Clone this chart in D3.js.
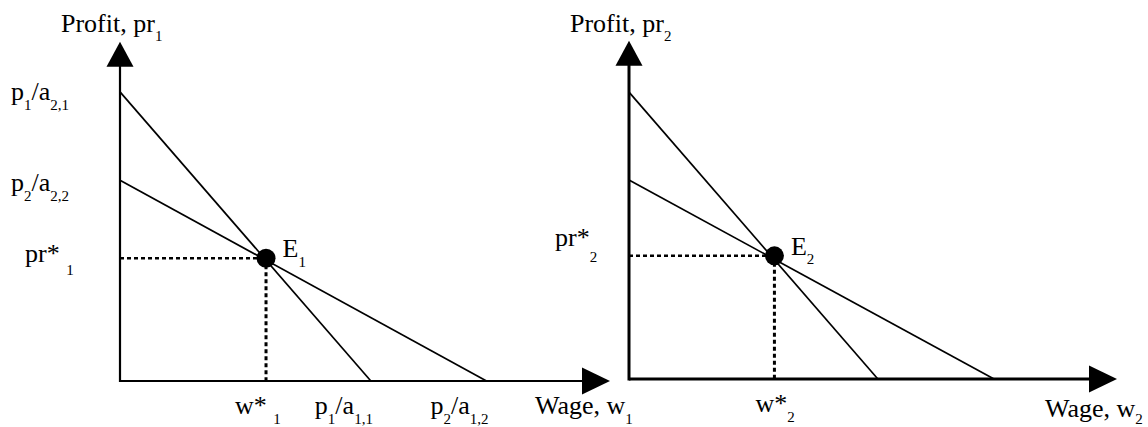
<!DOCTYPE html>
<html>
<head>
<meta charset="utf-8">
<script src="https://cdn.jsdelivr.net/npm/d3@7"></script>
<style>
    body { margin: 0; background: #fff; }
    svg { display: block; }
    text { font-family: "Liberation Serif", "Times New Roman", serif; fill: #000; }
</style>
</head>
<body>
<div id="chart"></div>
<script>
// Values (abstract units, axis runs 0..10 to the arrow tip)
const panelIds = ["1", "2"];
const steepYIntercept = [8.52, 8.48];   // p1/a2,1
const steepXIntercept = [5.12, 5.10];   // p1/a1,1
const shallowYIntercept = [5.92, 5.88]; // p2/a2,2
const shallowXIntercept = [7.48, 7.48]; // p2/a1,2
const equilibriumWage = [2.98, 2.98];
const equilibriumProfit = [3.62, 3.64];

// Labels ( _{..} marks a subscript )
const profitLabels = ["Profit, pr_{1}", "Profit, pr_{2}"];
const wageLabels = ["Wage, w_{1}", "Wage, w_{2}"];
const yInterceptLabels = [["p_{1}/a_{2,1}", "p_{2}/a_{2,2}"], [null, null]];
const xInterceptLabels = [["p_{1}/a_{1,1}", "p_{2}/a_{1,2}"], [null, null]];
const prStarLabels = ["pr* _{1}", "pr*_{2}"];
const wStarLabels = ["w* _{1}", "w*_{2}"];
const eqLabels = ["E_{1}", "E_{2}"];

const svg = d3.select("#chart").append("svg")
    .attr("width", 1148)
    .attr("height", 427);

// write text with subscripts as tspans
function richText(sel, str, subShift) {
    subShift = subShift || 10;
    const parts = str.split(/(_\{[^}]*\})/).filter(s => s.length);
    let down = false;
    parts.forEach(p => {
        const isSub = p.startsWith("_{");
        const t = sel.append("tspan").text(isSub ? p.slice(2, -1) : p);
        if (isSub) {
            t.style("font-size", "15px").attr("dy", down ? 0 : subShift);
            down = true;
        } else if (down) {
            t.attr("dy", -subShift);
            down = false;
        }
    });
    return sel;
}

class WagePanel {

    constructor(i, geom) {
        this.i = i;
        this.geom = geom;
        this.initVis();
    }

    initVis() {
        let vis = this;
        const g = vis.geom;
        const i = vis.i;

        vis.g = svg.append("g").attr("class", "panel-" + panelIds[i]);

        vis.x = d3.scaleLinear().domain([0, 10]).range([g.x0, g.x1]);
        vis.y = d3.scaleLinear().domain([0, 10]).range([g.y0, g.y1]);

        const line = d3.line().x(d => vis.x(d[0])).y(d => vis.y(d[1]));

        // profit lines for the two goods
        const lines = [
            [[0, steepYIntercept[i]], [steepXIntercept[i], 0]],
            [[0, shallowYIntercept[i]], [shallowXIntercept[i], 0]]
        ];
        vis.g.selectAll(".pline")
            .data(lines)
            .join("path")
            .attr("class", "pline")
            .attr("d", line)
            .attr("fill", "none")
            .attr("stroke", "#000")
            .attr("stroke-width", 1.7);

        // dotted guides to the equilibrium
        const ew = equilibriumWage[i], ep = equilibriumProfit[i];
        vis.g.append("path")
            .attr("d", line([[0, ep], [ew, ep]]))
            .attr("stroke", "#000")
            .attr("stroke-width", 2.5)
            .attr("stroke-dasharray", "4,3");
        vis.g.append("path")
            .attr("d", line([[ew, ep], [ew, 0]]))
            .attr("stroke", "#000")
            .attr("stroke-width", 3)
            .attr("stroke-dasharray", "4,3");

        // axes
        const arrowY = 24, arrowHalf = 13.5;
        vis.g.append("line")
            .attr("x1", vis.x(0)).attr("x2", vis.x(10) - arrowY)
            .attr("y1", vis.y(0)).attr("y2", vis.y(0))
            .attr("stroke", "#000").attr("stroke-width", g.axisW);
        vis.g.append("line")
            .attr("x1", vis.x(0)).attr("x2", vis.x(0))
            .attr("y1", vis.y(0) + g.axisW / 2).attr("y2", vis.y(10) + arrowY)
            .attr("stroke", "#000").attr("stroke-width", g.axisW);

        // arrow heads
        vis.g.append("path")
            .attr("d", `M${vis.x(0)},${vis.y(10)} L${vis.x(0) - arrowHalf},${vis.y(10) + arrowY + 1} L${vis.x(0) + arrowHalf},${vis.y(10) + arrowY + 1}Z`)
            .attr("fill", "#000");
        vis.g.append("path")
            .attr("d", `M${vis.x(10)},${vis.y(0)} L${vis.x(10) - arrowY - 4},${vis.y(0) - arrowHalf} L${vis.x(10) - arrowY - 4},${vis.y(0) + arrowHalf}Z`)
            .attr("fill", "#000");

        // equilibrium dot
        vis.g.append("circle")
            .attr("cx", vis.x(ew))
            .attr("cy", vis.y(ep))
            .attr("r", 9.5)
            .attr("fill", "#000");

        vis.drawLabels();
    }

    drawLabels() {
        let vis = this;
        const g = vis.geom;
        const i = vis.i;
        const ew = equilibriumWage[i], ep = equilibriumProfit[i];
        const fs = "26px";

        // axis titles
        richText(vis.g.append("text")
            .attr("x", vis.x(0) - 59).attr("y", 31.7)
            .style("font-size", fs), profitLabels[i], 9.5);
        richText(vis.g.append("text")
            .attr("x", vis.x(10) - g.wageDx).attr("y", vis.y(0) + g.wageDy)
            .style("font-size", fs), wageLabels[i], g.wageSub);

        // y intercept labels
        const yInts = [steepYIntercept[i], shallowYIntercept[i]];
        const yOff = [8, 11];
        yInterceptLabels[i].forEach((lab, k) => {
            if (!lab) return;
            richText(vis.g.append("text")
                .attr("x", vis.x(0) - 51).attr("y", vis.y(yInts[k]) + yOff[k])
                .attr("text-anchor", "end")
                .style("font-size", fs), lab);
        });

        // x intercept labels
        const xInts = [steepXIntercept[i], shallowXIntercept[i]];
        xInterceptLabels[i].forEach((lab, k) => {
            if (!lab) return;
            richText(vis.g.append("text")
                .attr("x", vis.x(xInts[k]) + 2).attr("y", vis.y(0) + 33)
                .attr("text-anchor", "end")
                .style("font-size", fs), lab);
        });

        // pr* and w*
        richText(vis.g.append("text")
            .attr("x", vis.x(0) - g.prDx).attr("y", vis.y(ep) + g.prDy)
            .style("font-size", fs), prStarLabels[i], g.prSub);
        richText(vis.g.append("text")
            .attr("x", vis.x(ew) - g.wDx).attr("y", vis.y(0) + g.wDy)
            .style("font-size", fs), wStarLabels[i]);

        // E label
        richText(vis.g.append("text")
            .attr("x", vis.x(ew) + 16.5).attr("y", vis.y(ep) - 1)
            .style("font-size", fs), eqLabels[i], 9.5);
    }
}

new WagePanel(0, { x0: 120, x1: 610, y0: 381, y1: 41.7, axisW: 2.2,
    wageDx: 75, wageDy: 33, wageSub: 10, prDx: 95, prDy: 4, prSub: 13, wDx: 31, wDy: 33 });
new WagePanel(1, { x0: 629, x1: 1117, y0: 379, y1: 40.7, axisW: 3,
    wageDx: 72, wageDy: 38, wageSub: 7, prDx: 74, prDy: -10, prSub: 16, wDx: 19, wDy: 33 });
</script>
</body>
</html>
